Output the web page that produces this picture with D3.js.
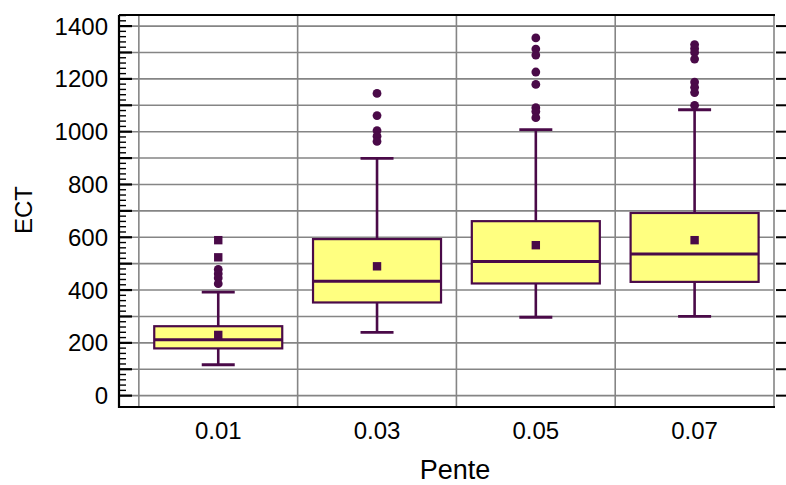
<!DOCTYPE html>
<html>
<head>
<meta charset="utf-8">
<script src="https://cdn.jsdelivr.net/npm/d3@7"></script>
<style>
  html, body { margin: 0; padding: 0; background: #ffffff; }
  svg { display: block; }
  text { font-family: "Liberation Sans", Arial, sans-serif; fill: #000; }
</style>
</head>
<body>
<svg id="chart" width="786" height="485"></svg>
<script>
// ---- data ----
const categories = ["0.01", "0.03", "0.05", "0.07"];
const xValues = [0.01, 0.03, 0.05, 0.07];
const whiskerLow = [117, 240, 297, 300];
const q1 = [179, 353, 425, 431];
const median = [212, 433, 508, 537];
const q3 = [263, 593, 661, 692];
const whiskerHigh = [392, 899, 1008, 1083];
const mean = [230, 490, 570, 589];
const outliers = [
  [478, 462, 446, 424],
  [1145, 1061, 1004, 983, 963],
  [1355, 1313, 1290, 1226, 1179, 1091, 1076, 1053],
  [1330, 1315, 1300, 1275, 1188, 1168, 1148, 1100]
];
const farOutliers = [
  [589, 524],
  [],
  [],
  []
];
const yTickLabels = [0, 200, 400, 600, 800, 1000, 1200, 1400];
const yGridValues = d3.range(0, 1401, 100);
const yMinorValues = d3.range(0, 1441, 20);
const xGridValues = [0, 0.02, 0.04, 0.06, 0.08];
const xTitle = "Pente";
const yTitle = "ECT";

// ---- layout ----
const svg = d3.select("#chart");
const pLeft = 119, pRight = 774, pTop = 15, pBottom = 407;
const x = d3.scaleLinear().domain([-0.0025, 0.08]).range([pLeft, pRight]);
const y = d3.scaleLinear().domain([-43, 1442]).range([pBottom, pTop]);

const purple = "#4a0a48";
const fillYellow = "#ffff80";
const gridColor = "#858585";

// grid
svg.append("g").selectAll("line").data(yGridValues).join("line")
  .attr("x1", pLeft).attr("x2", pRight)
  .attr("y1", d => y(d)).attr("y2", d => y(d))
  .attr("stroke", gridColor).attr("stroke-width", 1.6);
svg.append("g").selectAll("line").data(xGridValues).join("line")
  .attr("x1", d => x(d)).attr("x2", d => x(d))
  .attr("y1", pTop).attr("y2", pBottom)
  .attr("stroke", gridColor).attr("stroke-width", 1.6);

// left axis ticks (minor every 20, major every 100)
svg.append("g").selectAll("line").data(yMinorValues.filter(v => y(v) <= pBottom && y(v) >= pTop)).join("line")
  .attr("x1", pLeft).attr("x2", d => pLeft + (d % 100 === 0 ? 13 : 7))
  .attr("y1", d => y(d)).attr("y2", d => y(d))
  .attr("stroke", "#000").attr("stroke-width", d => d % 100 === 0 ? 2.2 : 1.4);

// right axis ticks outward
svg.append("g").selectAll("line").data(yGridValues).join("line")
  .attr("x1", pRight + 2).attr("x2", pRight + 13)
  .attr("y1", d => y(d)).attr("y2", d => y(d))
  .attr("stroke", "#000").attr("stroke-width", 2);

// frame lines
svg.append("line").attr("x1", pLeft).attr("x2", pLeft).attr("y1", pTop).attr("y2", pBottom + 1)
  .attr("stroke", "#000").attr("stroke-width", 2.2);
svg.append("line").attr("x1", pLeft).attr("x2", pRight + 1).attr("y1", pTop).attr("y2", pTop)
  .attr("stroke", "#000").attr("stroke-width", 2);
svg.append("line").attr("x1", pLeft).attr("x2", pRight + 1).attr("y1", pBottom).attr("y2", pBottom)
  .attr("stroke", "#000").attr("stroke-width", 2);

// y tick labels
svg.append("g").selectAll("text").data(yTickLabels).join("text")
  .attr("x", 108).attr("y", d => y(d))
  .attr("text-anchor", "end").attr("dominant-baseline", "central")
  .attr("font-size", 24)
  .text(d => d);

// x tick labels
svg.append("g").selectAll("text").data(categories).join("text")
  .attr("x", (d, i) => x(xValues[i])).attr("y", 438.5)
  .attr("text-anchor", "middle")
  .attr("font-size", 24)
  .text(d => d);

// axis titles
svg.append("text").attr("x", 455).attr("y", 479)
  .attr("text-anchor", "middle").attr("font-size", 27).text(xTitle);
svg.append("text").attr("transform", "translate(32,210) rotate(-90)")
  .attr("text-anchor", "middle").attr("font-size", 24).text(yTitle);

// boxes
const boxW = 128, capW = 33;
const g = svg.append("g");
categories.forEach((c, i) => {
  const cx = x(xValues[i]);
  g.append("line").attr("x1", cx).attr("x2", cx).attr("y1", y(q3[i])).attr("y2", y(whiskerHigh[i]))
    .attr("stroke", purple).attr("stroke-width", 2.6);
  g.append("line").attr("x1", cx).attr("x2", cx).attr("y1", y(q1[i])).attr("y2", y(whiskerLow[i]))
    .attr("stroke", purple).attr("stroke-width", 2.6);
  g.append("line").attr("x1", cx - capW / 2).attr("x2", cx + capW / 2)
    .attr("y1", y(whiskerHigh[i])).attr("y2", y(whiskerHigh[i]))
    .attr("stroke", purple).attr("stroke-width", 2.8);
  g.append("line").attr("x1", cx - capW / 2).attr("x2", cx + capW / 2)
    .attr("y1", y(whiskerLow[i])).attr("y2", y(whiskerLow[i]))
    .attr("stroke", purple).attr("stroke-width", 2.8);
  g.append("rect").attr("x", cx - boxW / 2).attr("y", y(q3[i]))
    .attr("width", boxW).attr("height", y(q1[i]) - y(q3[i]))
    .attr("fill", fillYellow).attr("stroke", purple).attr("stroke-width", 2.2);
  g.append("line").attr("x1", cx - boxW / 2).attr("x2", cx + boxW / 2)
    .attr("y1", y(median[i])).attr("y2", y(median[i]))
    .attr("stroke", purple).attr("stroke-width", 3);
  g.append("rect").attr("x", cx - 4.2).attr("y", y(mean[i]) - 4.2)
    .attr("width", 8.4).attr("height", 8.4).attr("fill", purple);
  g.selectAll(null).data(outliers[i]).join("circle")
    .attr("cx", cx).attr("cy", d => y(d)).attr("r", 4.4).attr("fill", purple);
  g.selectAll(null).data(farOutliers[i]).join("rect")
    .attr("x", cx - 4.2).attr("y", d => y(d) - 4.2)
    .attr("width", 8.4).attr("height", 8.4).attr("fill", purple);
});
</script>
</body>
</html>
